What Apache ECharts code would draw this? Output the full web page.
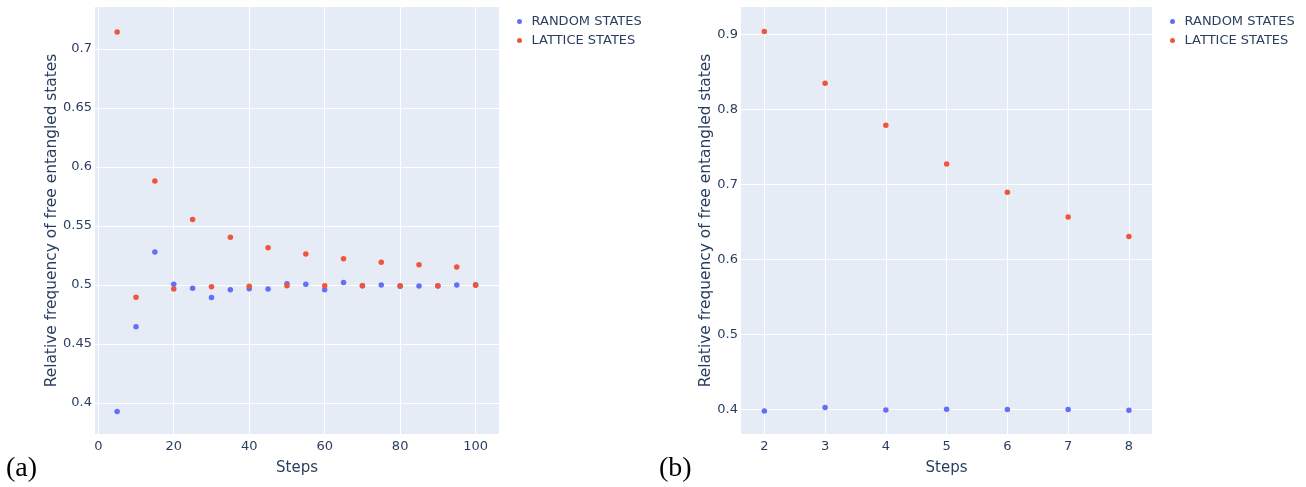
<!DOCTYPE html>
<html>
<head>
<meta charset="utf-8">
<script src="https://cdn.jsdelivr.net/npm/echarts@6/dist/echarts.min.js"></script>
<style>
  html, body { margin: 0; padding: 0; background: #fff; }
  #main { width: 1306px; height: 487px; }
</style>
</head>
<body>
<div id="main"></div>
<script>
var chart = echarts.init(document.getElementById('main'))

// panel (a): steps 5..100
var stepsA = [5, 10, 15, 20, 25, 30, 35, 40, 45, 50, 55, 60, 65, 70, 75, 80, 85, 90, 95, 100]
var randomA = [0.3927, 0.4647, 0.528, 0.5006, 0.4972, 0.4893, 0.496, 0.4969, 0.4966, 0.5011,
  0.5006, 0.496, 0.502, 0.4994, 0.5, 0.4989, 0.4992, 0.4992, 0.5, 0.5003]
var latticeA = [0.7144, 0.4895, 0.5881, 0.4966, 0.5554, 0.4986, 0.5404, 0.4989, 0.5316, 0.4994,
  0.5263, 0.4994, 0.5223, 0.4994, 0.5192, 0.4994, 0.5172, 0.4994, 0.5153, 0.4997]
var xTicksA = [0, 20, 40, 60, 80, 100]
var yTicksA = [0.4, 0.45, 0.5, 0.55, 0.6, 0.65, 0.7]

// panel (b): steps 2..8
var stepsB = [2, 3, 4, 5, 6, 7, 8]
var randomB = [0.3978, 0.4022, 0.3991, 0.4, 0.3996, 0.3996, 0.3987]
var latticeB = [0.9036, 0.8347, 0.7787, 0.7271, 0.6893, 0.6564, 0.6302]
var xTicksB = [2, 3, 4, 5, 6, 7, 8]
var yTicksB = [0.4, 0.5, 0.6, 0.7, 0.8, 0.9]

var seriesNames = ['RANDOM STATES', 'LATTICE STATES']
var colors = ['#636efa', '#EF553B']

var font = 'DejaVu Sans'
var ink = '#2a3f5f'

function pairs(xs, ys) {
  return xs.map(function (x, i) { return [x, ys[i]] })
}

function xAxisFor(idx, min, max, ticks) {
  return {
    type: 'value', gridIndex: idx, min: min, max: max,
    name: 'Steps', nameLocation: 'middle', nameGap: 27,
    nameTextStyle: { color: ink, fontSize: 15, fontFamily: font },
    axisLine: { show: false }, axisTick: { show: false, customValues: ticks },
    axisLabel: { customValues: ticks, color: ink, fontSize: 13, fontFamily: font, margin: 6 },
    splitLine: { show: true, lineStyle: { color: '#fff', width: 1 } }
  }
}

function yAxisFor(idx, min, max, ticks, gap) {
  return {
    type: 'value', gridIndex: idx, min: min, max: max,
    name: 'Relative frequency of free entangled states', nameLocation: 'middle', nameGap: gap,
    nameTextStyle: { color: ink, fontSize: 15.4, fontFamily: font },
    axisLine: { show: false }, axisTick: { show: false, customValues: ticks },
    axisLabel: { customValues: ticks, color: ink, fontSize: 13, fontFamily: font, margin: 3 },
    splitLine: { show: true, lineStyle: { color: '#fff', width: 1 } }
  }
}

function scatter(name, xi, data, color) {
  return {
    name: name, type: 'scatter', xAxisIndex: xi, yAxisIndex: xi,
    data: data, symbolSize: 5.5, itemStyle: { color: color, opacity: 1 },
    emphasis: { disabled: true }
  }
}

function legendAt(left) {
  return {
    data: seriesNames, orient: 'vertical', left: left, top: 10,
    icon: 'circle', itemWidth: 14, itemHeight: 5, itemGap: 6,
    textStyle: { color: ink, fontSize: 13, fontFamily: font }
  }
}

var option = {
  backgroundColor: '#fff',
  animation: false,
  color: colors,
  grid: [
    { left: 95, top: 7, width: 404, height: 427, show: true, backgroundColor: '#E5ECF6', borderWidth: 0 },
    { left: 741, top: 7, width: 411, height: 427, show: true, backgroundColor: '#E5ECF6', borderWidth: 0 }
  ],
  xAxis: [
    xAxisFor(0, -0.87, 106.2, xTicksA),
    xAxisFor(1, 1.616, 8.38, xTicksB)
  ],
  yAxis: [
    yAxisFor(0, 0.3737, 0.7356, yTicksA, 36),
    yAxisFor(1, 0.367, 0.9364, yTicksB, 26)
  ],
  legend: [legendAt(512), legendAt(1165)],
  graphic: [
    { type: 'text', left: 6, top: 455, style: { text: '(a)', font: '28px "Liberation Serif"', fill: '#000' } },
    { type: 'text', left: 659, top: 455, style: { text: '(b)', font: '28px "Liberation Serif"', fill: '#000' } }
  ],
  series: [
    scatter(seriesNames[0], 0, pairs(stepsA, randomA), colors[0]),
    scatter(seriesNames[1], 0, pairs(stepsA, latticeA), colors[1]),
    scatter(seriesNames[0], 1, pairs(stepsB, randomB), colors[0]),
    scatter(seriesNames[1], 1, pairs(stepsB, latticeB), colors[1])
  ]
}

chart.setOption(option)
</script>
</body>
</html>
